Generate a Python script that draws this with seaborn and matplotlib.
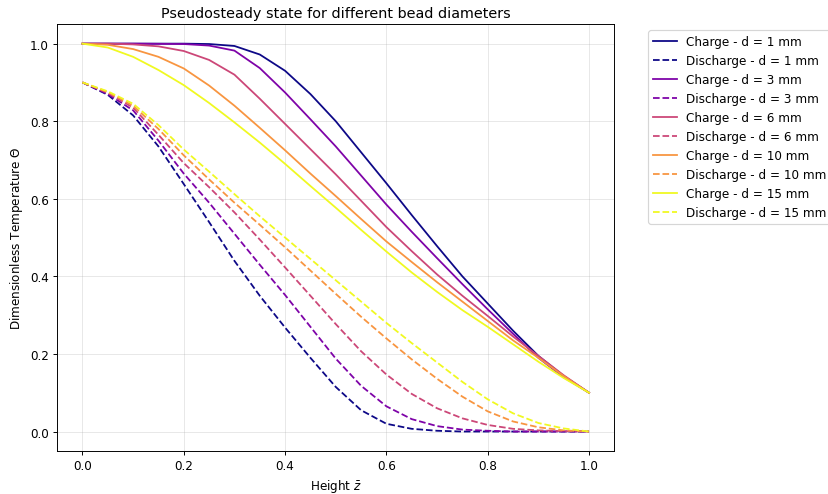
import numpy as np
import pandas as pd
import matplotlib
matplotlib.use("Agg")
import matplotlib.pyplot as plt
import seaborn as sns

# Height coordinate (dimensionless)
z = [0.0, 0.05, 0.1, 0.15, 0.2, 0.25, 0.3, 0.35, 0.4, 0.45, 0.5,
     0.55, 0.6, 0.65, 0.7, 0.75, 0.8, 0.85, 0.9, 0.95, 1.0]

diameters = [1, 3, 6, 10, 15]

charge_d1 = [1.0, 1.0, 1.0, 1.0, 1.0, 0.999, 0.994, 0.972, 0.93, 0.87, 0.8,
             0.72, 0.64, 0.558, 0.478, 0.4, 0.33, 0.26, 0.195, 0.143, 0.1]
charge_d3 = [1.0, 1.0, 1.0, 0.9995, 0.999, 0.995, 0.982, 0.937, 0.874, 0.805, 0.735,
             0.66, 0.585, 0.515, 0.447, 0.38, 0.315, 0.252, 0.19, 0.14, 0.1]
charge_d6 = [1.0, 1.0, 0.998, 0.993, 0.981, 0.958, 0.92, 0.858, 0.793, 0.728, 0.663,
             0.595, 0.527, 0.465, 0.405, 0.35, 0.298, 0.245, 0.195, 0.145, 0.1]
charge_d10 = [1.0, 0.997, 0.986, 0.966, 0.936, 0.892, 0.84, 0.783, 0.725, 0.665, 0.607,
              0.548, 0.49, 0.437, 0.385, 0.335, 0.285, 0.235, 0.19, 0.143, 0.1]
charge_d15 = [1.0, 0.99, 0.966, 0.932, 0.893, 0.847, 0.797, 0.745, 0.69, 0.633, 0.577,
              0.52, 0.464, 0.41, 0.36, 0.313, 0.27, 0.225, 0.18, 0.138, 0.1]

discharge_d1 = [0.9, 0.868, 0.815, 0.735, 0.638, 0.54, 0.44, 0.35, 0.268, 0.19, 0.115,
                0.055, 0.02, 0.007, 0.002, 0.0, 0.0, 0.0, 0.0, 0.0, 0.0]
discharge_d3 = [0.9, 0.87, 0.828, 0.75, 0.665, 0.59, 0.51, 0.43, 0.352, 0.27, 0.188,
                0.118, 0.065, 0.032, 0.014, 0.005, 0.002, 0.0, 0.0, 0.0, 0.0]
discharge_d6 = [0.9, 0.873, 0.835, 0.765, 0.692, 0.63, 0.565, 0.495, 0.423, 0.35, 0.277,
                0.207, 0.147, 0.097, 0.06, 0.034, 0.017, 0.007, 0.003, 0.001, 0.0]
discharge_d10 = [0.9, 0.875, 0.84, 0.78, 0.712, 0.65, 0.59, 0.533, 0.475, 0.415, 0.355,
                 0.296, 0.24, 0.186, 0.136, 0.09, 0.052, 0.026, 0.011, 0.003, 0.0]
discharge_d15 = [0.9, 0.877, 0.845, 0.79, 0.727, 0.67, 0.612, 0.555, 0.5, 0.445, 0.39,
                 0.335, 0.28, 0.228, 0.178, 0.128, 0.083, 0.047, 0.022, 0.008, 0.0]

charge = [charge_d1, charge_d3, charge_d6, charge_d10, charge_d15]
discharge = [discharge_d1, discharge_d3, discharge_d6, discharge_d10, discharge_d15]

colors = plt.cm.plasma(np.linspace(0, 1, len(diameters)))

DPI = 86
fig = plt.figure(figsize=(828 / DPI, 495 / DPI), dpi=DPI)
ax = fig.add_axes([0.069, 0.087, 0.673, 0.862])

for d, c_vals, d_vals, col in zip(diameters, charge, discharge, colors):
    sns.lineplot(x=z, y=c_vals, ax=ax, color=col, linestyle='-', linewidth=1.5,
                 label=f"Charge - d = {d} mm")
    sns.lineplot(x=z, y=d_vals, ax=ax, color=col, linestyle='--', linewidth=1.5,
                 label=f"Discharge - d = {d} mm")

ax.set_title("Pseudosteady state for different bead diameters")
ax.set_xlabel(r"Height $\bar{z}$")
ax.set_ylabel(r"Dimensionless Temperature $\Theta$")
ax.grid(True, alpha=0.3)
ax.legend(bbox_to_anchor=(1.05, 1), loc='upper left')

fig.savefig("out.png", dpi=DPI)
